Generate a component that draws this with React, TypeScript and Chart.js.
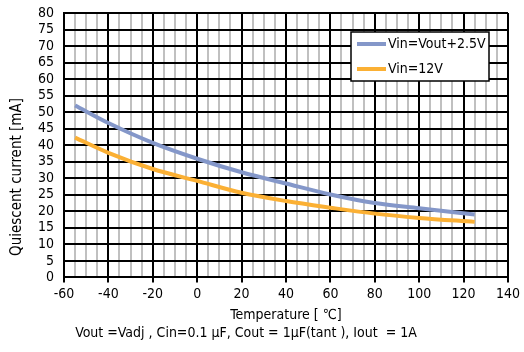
import React, { useEffect, useRef } from "react";
import { Chart, registerables } from "chart.js";

Chart.register(...registerables);

const temperatures = [-55, -40, -20, 0, 20, 40, 60, 80, 100, 125];
const seriesVout = [52.0, 46.7, 40.7, 35.9, 31.8, 28.4, 25.1, 22.5, 20.9, 19.0];
const series12V = [42.3, 37.7, 32.8, 29.2, 25.6, 23.1, 21.1, 19.3, 18.0, 16.8];
const seriesLabels = ["Vin=Vout+2.5V", "Vin=12V"];
const seriesColors = ["#8497c9", "#fbb034"];
const yTitle = "Quiescent current [mA]";
const xTitle = "Temperature [ \u2103]";
const caption = "Vout =Vadj , Cin=0.1 \u03bcF, Cout = 1\u03bcF(tant ), Iout  = 1A";

const FONT = "'DejaVu Sans Condensed', 'DejaVu Sans', sans-serif";

const overlayPlugin = {
  id: "overlay",
  afterDraw(chart: any) {
    const { ctx, chartArea } = chart;
    ctx.save();
    ctx.fillStyle = "#000";
    // y title
    ctx.save();
    ctx.font = `15px ${FONT}`;
    ctx.translate(chartArea.left - 47, chartArea.top + 164);
    ctx.rotate(-Math.PI / 2);
    ctx.textAlign = "center";
    ctx.textBaseline = "middle";
    ctx.fillText(yTitle, 0, 0);
    ctx.restore();
    // caption
    ctx.font = `14px ${FONT}`;
    ctx.textAlign = "center";
    ctx.textBaseline = "middle";
    ctx.fillText(caption, chartArea.left + 182, chartArea.bottom + 56);
    // legend
    const bx = chartArea.left + 287;
    const by = chartArea.top + 19;
    const bw = 138;
    const bh = 49;
    ctx.fillStyle = "#fff";
    ctx.fillRect(bx, by, bw, bh);
    ctx.strokeStyle = "#000";
    ctx.lineWidth = 1.5;
    ctx.strokeRect(bx, by, bw, bh);
    chart.data.datasets.forEach((ds: any, i: number) => {
      const ly = by + 12 + i * 25;
      ctx.strokeStyle = ds.borderColor;
      ctx.lineWidth = 4;
      ctx.beginPath();
      ctx.moveTo(bx + 6, ly);
      ctx.lineTo(bx + 35, ly);
      ctx.stroke();
      ctx.fillStyle = "#000";
      ctx.textAlign = "left";
      ctx.textBaseline = "middle";
      ctx.fillText(ds.label, bx + 37, ly);
    });
    ctx.restore();
  },
};

export default function App() {
  const ref = useRef<HTMLCanvasElement | null>(null);
  useEffect(() => {
    if (!ref.current) return;
    const mk = (vals: number[]) => temperatures.map((t, i) => ({ x: t, y: vals[i] }));
    const chart = new Chart(ref.current, {
      type: "line",
      data: {
        datasets: [
          {
            label: seriesLabels[0],
            data: mk(seriesVout),
            borderColor: seriesColors[0],
            backgroundColor: seriesColors[0],
            borderWidth: 4,
            pointRadius: 0,
            cubicInterpolationMode: "monotone",
          },
          {
            label: seriesLabels[1],
            data: mk(series12V),
            borderColor: seriesColors[1],
            backgroundColor: seriesColors[1],
            borderWidth: 4,
            pointRadius: 0,
            cubicInterpolationMode: "monotone",
          },
        ],
      },
      options: {
        responsive: false,
        animation: false,
        layout: { padding: { left: 0, right: 14, top: 13, bottom: 23 } },
        plugins: { legend: { display: false }, tooltip: { enabled: false } },
        scales: {
          x: {
            type: "linear",
            min: -60,
            max: 140,
            ticks: {
              stepSize: 5,
              autoSkip: false,
              maxRotation: 0,
              padding: 4,
              color: "#000",
              font: { family: FONT, size: 14 },
              callback: (v: any) => (Number(v) % 20 === 0 ? String(v) : ""),
            },
            grid: {
              color: (c: any) => (c.tick && c.tick.value % 20 === 0 ? "#000" : "#c0c0c0"),
              lineWidth: 2,
              tickLength: 5,
              tickColor: (c: any) => (c.tick && c.tick.value % 20 === 0 ? "#000" : "rgba(0,0,0,0)"),
            },
            border: { color: "#000", width: 2 },
            title: {
              display: true,
              text: xTitle,
              color: "#000",
              font: { family: FONT, size: 14 },
              padding: { top: 0, bottom: 5 },
            },
          },
          y: {
            min: 0,
            max: 80,
            afterFit: (s: any) => {
              s.width = 64;
              s.paddingTop = 0;
              s.paddingBottom = 0;
            },
            ticks: {
              stepSize: 5,
              autoSkip: false,
              padding: 10,
              color: "#000",
              font: { family: FONT, size: 14 },
            },
            grid: { color: "#000", lineWidth: 2, drawTicks: false },
            border: { color: "#000", width: 2 },
          },
        },
      },
      plugins: [overlayPlugin],
    });
    return () => chart.destroy();
  }, []);
  return (
    <div style={{ position: "fixed", left: 0, top: 0, width: 524, height: 352, background: "#fff" }}>
      <canvas ref={ref} width={524} height={352} />
    </div>
  );
}
